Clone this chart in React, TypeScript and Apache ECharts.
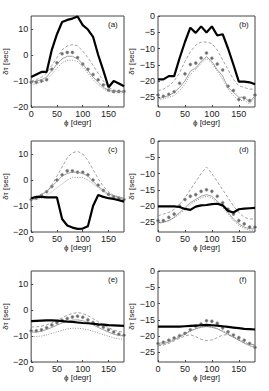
import React, { useEffect, useRef } from "react";
import * as echarts from "echarts";

const PHI = [0, 10, 20, 30, 40, 50, 60, 70, 80, 90, 100, 110, 120, 130, 140, 150, 160, 170, 180];
const PANEL_LABELS = ["(a)", "(b)", "(c)", "(d)", "(e)", "(f)"];

// (a)
const thickA = [-8.5, -7.5, -6.5, -6.5, 2, 8, 12.7, 13.5, 14, 14.8, 11.5, 9.8, 7, 0, -6, -12.4, -10, -11, -12];
const dashA = [-10, -9.5, -8.5, -7, -4, -1, 2, 3.5, 4, 3.5, 1.5, -1, -4, -7, -10, -12.5, -13.5, -14, -14];
const starA = [-10.5, -10.5, -10, -9.5, -5.5, -3, 0.5, 1, 1, -1, -3.5, -5.5, -7.5, -9.5, -11.5, -13.5, -14, -14, -14];
const solidA = [-10.5, -10, -9.5, -8.5, -6, -3.5, -1.5, -0.5, -0.5, -1.5, -3.5, -6, -8.5, -10.5, -12.5, -13.5, -14, -14, -14];
const dotA = [-11.5, -11, -10.5, -9.5, -7.5, -5, -3, -2, -2, -2.5, -4.5, -7, -9.5, -11.5, -13, -14, -14.5, -14.5, -14.5];

// (b)
const thickB = [-19.5, -19.5, -18.5, -18.5, -13, -8, -3.6, -5.2, -3.2, -5.1, -3.2, -6, -5.6, -10, -15, -20.2, -20.2, -20.4, -21];
const dashB = [-23, -22.5, -21.5, -20, -17.5, -14, -11, -9, -8, -8, -8.5, -10.5, -13.5, -16.5, -19.5, -21.5, -22, -22.5, -22.5];
const starB = [-24.3, -24.7, -24.1, -23.3, -20.7, -17.8, -14.9, -14.5, -12.9, -11.4, -13, -14.8, -16.6, -21.6, -22.9, -25.7, -25.2, -26, -24.3];
const solidB = [-25.5, -25, -24.5, -23.5, -22, -20, -17, -16, -14, -12.5, -14, -16.5, -18.5, -22, -23.5, -25, -25, -26.5, -24.5];
const dotB = [-26, -25.5, -25, -24.5, -23, -21, -18, -16.5, -14.5, -13, -14.5, -17, -19.5, -22.5, -24.5, -26, -26, -27, -25];

// (c)
const thickC = [-7, -6.5, -6.5, -6.7, -6.7, -6.7, -15, -17.5, -18.3, -18.8, -18.7, -17.8, -10, -5.8, -6.5, -7, -7.3, -7.8, -8.3];
const dashC = [-7.5, -7, -6, -4.5, -2, 1.5, 5, 8.5, 10.5, 11, 10, 7.5, 4, 0.5, -2.5, -4.5, -6, -7, -7.5];
const starC = [-7.5, -7, -6, -4.5, -2.5, 0, 2, 3.5, 3.5, 3, 3, 2, 0, -2, -4, -5.5, -6.5, -7, -7.5];
const solidC = [-7, -6.5, -5.5, -4.5, -2.5, -0.5, 1.5, 2.5, 3, 3, 2.5, 1.5, -0.5, -2.5, -4, -5.5, -6, -6.5, -7];
const dotC = [-7.5, -7.5, -7, -6, -4.5, -3, -1.5, 0, 1, 1, 1, 0, -1.5, -3, -4.5, -6, -7, -7.5, -8];

// (d)
const thickD = [-20.1, -20.1, -20.1, -20.1, -20.3, -20.9, -21.2, -20.2, -19.8, -19.7, -19.4, -19.3, -19.8, -21.5, -22, -21, -20.8, -20.7, -20.6];
const dashD = [-23, -22.5, -22, -21, -19.5, -17.5, -15, -12.5, -10, -8, -10, -12.5, -15, -17.5, -20, -22, -23.5, -24, -24];
const starD = [-24.5, -24.5, -23.5, -22.5, -20, -18, -17, -16.5, -15.5, -15, -15.5, -17, -19, -21, -22.5, -24.5, -25.5, -26.5, -26.5];
const solidD = [-25, -25, -24.5, -23.5, -22, -20.5, -19, -18, -17, -16.5, -17, -18.5, -20, -22, -24, -25.5, -26.5, -27, -27];
const dotD = [-25.5, -25, -24.5, -23.5, -22.5, -21, -19.5, -18.5, -17.5, -17, -17.5, -19, -20.5, -22.5, -24.5, -26, -27, -27.5, -27.5];

// (e)
const thickE = [-4.3, -4.2, -4.1, -4, -4, -4.1, -4.3, -4.5, -4.6, -4.8, -5, -5.1, -5.3, -5.5, -5.6, -5.8, -5.9, -6, -6.1];
const dashE = [-6.5, -6.5, -6.2, -5.7, -5, -4, -3, -2, -1.3, -1, -1.3, -2.2, -3.3, -4.5, -5.7, -6.8, -7.7, -8.3, -8.5];
const starE = [-8, -8, -7.6, -6.8, -5.8, -4.9, -4, -3.3, -2.7, -2.4, -2.8, -3.8, -4.8, -5.8, -6.6, -7.6, -8.5, -9.3, -9.7];
const solidE = [-8.5, -8.5, -8.2, -7.5, -6.7, -5.8, -5, -4.3, -3.9, -3.8, -4.1, -4.8, -5.7, -6.7, -7.6, -8.5, -9.3, -9.8, -10];
const dotE = [-10.2, -10.2, -10, -9.6, -9, -8.4, -7.8, -7.3, -7, -7, -7.2, -7.6, -8.2, -8.8, -9.5, -10.1, -10.7, -11.1, -11.2];

// (f)
const thickF = [-17.1, -17.1, -17.1, -17.1, -17.1, -17, -16.9, -16.8, -16.7, -16.6, -16.7, -16.8, -17, -17.2, -17.4, -17.6, -17.8, -17.9, -18];
const dashF = [-23, -22.8, -22.3, -21.5, -20.7, -20, -19.6, -20.2, -21, -21.4, -21.2, -20.5, -19.7, -19.6, -20.3, -21.3, -22.1, -22.5, -22.7];
const starF = [-22.3, -21.9, -21.3, -20.6, -19.9, -19.2, -18.1, -17, -16.3, -15.3, -15.5, -16.1, -17.5, -18.7, -19.7, -20.5, -21.3, -22.3, -23.5];
const solidF = [-22.6, -22.4, -21.9, -21.2, -20.3, -19.4, -18.5, -17.8, -17.3, -17.1, -17.3, -17.8, -18.6, -19.5, -20.4, -21.3, -22.2, -23, -23.5];
const dotF = [-22.2, -22, -21.5, -20.8, -20, -19.2, -18.4, -17.7, -17.2, -17, -17.2, -17.7, -18.4, -19.3, -20.2, -21, -21.8, -22.5, -23];

const PANELS = [
  [thickA, dashA, solidA, dotA, starA],
  [thickB, dashB, solidB, dotB, starB],
  [thickC, dashC, solidC, dotC, starC],
  [thickD, dashD, solidD, dotD, starD],
  [thickE, dashE, solidE, dotE, starE],
  [thickF, dashF, solidF, dotF, starF],
];

const FONT = "'Liberation Sans', Arial, sans-serif";

const minus = (v: number) => String(v).replace("-", "\u2212");

export default function App() {
  const ref = useRef<HTMLDivElement>(null);
  useEffect(() => {
    if (!ref.current) return;
    const chart = echarts.init(ref.current, null, { renderer: "svg" });
    const lefts = [27, 158];
    const tops = [16, 141, 271];
    const grids: any[] = [];
    const xAxes: any[] = [];
    const yAxes: any[] = [];
    const series: any[] = [];
    const graphics: any[] = [];
    PANELS.forEach((p, i) => {
      const col = i % 2;
      const row = Math.floor(i / 2);
      const left = lefts[col];
      const top = tops[row];
      grids.push({ left, top, width: 97, height: 91, show: true, borderColor: "#444", borderWidth: 1, containLabel: false });
      xAxes.push({
        type: "value",
        gridIndex: i,
        position: "bottom",
        min: 0,
        max: 180,
        interval: 50,
        name: "\u03d5 [degr]",
        nameLocation: "middle",
        nameGap: 11,
        nameTextStyle: { fontSize: 8, fontFamily: FONT, color: "#222" },
        axisLine: { show: false, onZero: false },
        axisTick: { show: true, inside: true, length: 2, lineStyle: { color: "#444" } },
        splitLine: { show: false },
        axisLabel: { fontSize: 9, fontFamily: FONT, color: "#222", margin: 2, showMaxLabel: false },
      });
      const leftCol = col === 0;
      yAxes.push({
        type: "value",
        gridIndex: i,
        position: "left",
        min: leftCol ? -20 : -28,
        max: leftCol ? 15 : 0,
        ...(leftCol ? { interval: 10 } : { splitNumber: 5 }),
        name: "\u03b4\u03c4 [sec]",
        nameLocation: "middle",
        nameRotate: 90,
        nameGap: 20,
        nameTextStyle: { fontSize: 8, fontFamily: FONT, color: "#222" },
        axisLine: { show: false, onZero: false },
        axisTick: { show: true, inside: true, length: 2, lineStyle: { color: "#444" } },
        splitLine: { show: false },
        axisLabel: {
          fontSize: 9,
          fontFamily: FONT,
          color: "#222",
          margin: 3,
          showMaxLabel: leftCol ? false : true,
          showMinLabel: leftCol ? true : false,
          formatter: (v: number) => minus(v),
        },
      });
      graphics.push({
        type: "text",
        left: left + 81,
        top: top + 4,
        style: { text: PANEL_LABELS[i], fontSize: 8, fontFamily: FONT, fill: "#222" },
      });
      const [thick, dash, solid, dot, star] = p;
      const mk = (arr: number[]) => PHI.map((x, j) => [x, arr[j]]);
      series.push(
        { type: "line", xAxisIndex: i, yAxisIndex: i, data: mk(dash), showSymbol: false, lineStyle: { color: "#8a8a8a", width: 0.8, type: [3, 2] } },
        { type: "line", xAxisIndex: i, yAxisIndex: i, data: mk(solid), showSymbol: false, lineStyle: { color: "#8a8a8a", width: 0.8 } },
        { type: "line", xAxisIndex: i, yAxisIndex: i, data: mk(dot), showSymbol: false, lineStyle: { color: "#777", width: 0.8, type: [1, 1.5] } },
        { type: "scatter", xAxisIndex: i, yAxisIndex: i, data: mk(star), symbol: "circle", symbolSize: 3, itemStyle: { color: "#444", borderColor: "#999", borderWidth: 0.8 } },
        { type: "line", xAxisIndex: i, yAxisIndex: i, data: mk(thick), showSymbol: false, lineStyle: { color: "#000", width: 2.2 } }
      );
    });
    chart.setOption({
      animation: false,
      backgroundColor: "#fff",
      graphic: graphics,
      grid: grids,
      xAxis: xAxes,
      yAxis: yAxes,
      series,
    });
    return () => chart.dispose();
  }, []);
  return <div ref={ref} style={{ position: "fixed", left: 0, top: 0, width: 269, height: 391, background: "#fff" }} />;
}
